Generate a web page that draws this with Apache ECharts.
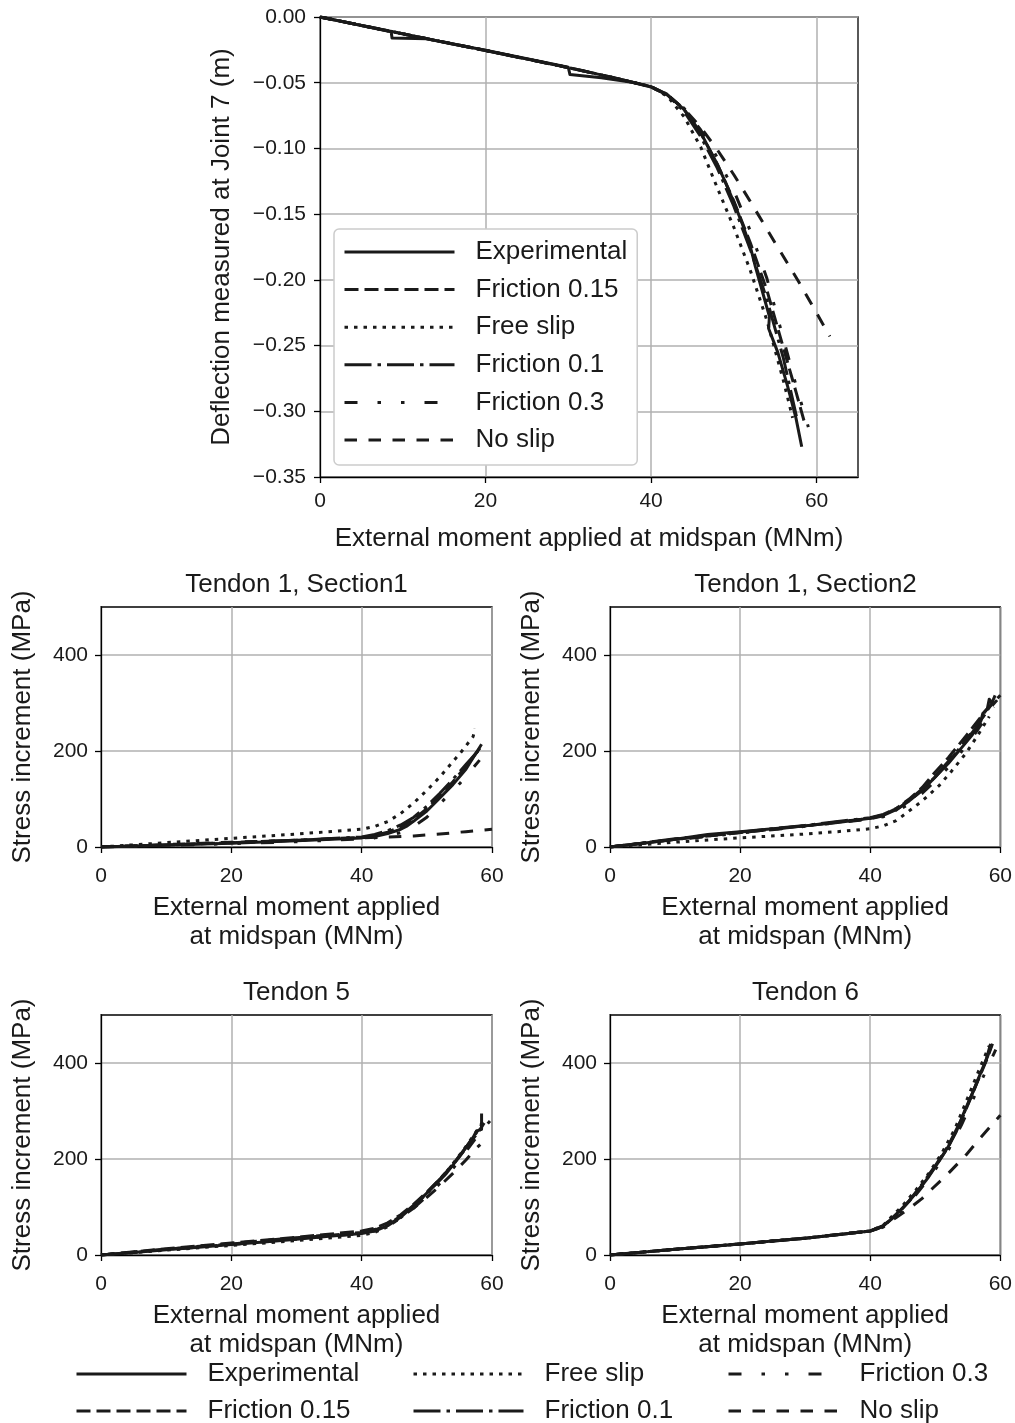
<!DOCTYPE html>
<html><head><meta charset="utf-8">
<script src="https://cdn.jsdelivr.net/npm/echarts@6/dist/echarts.min.js"></script>
<style>html,body{margin:0;padding:0;background:#fff}#chart{width:1015px;height:1423px}</style>
</head><body><div id="chart"></div>
<script>
// ---------- data ----------
const seriesNames = ['Experimental', 'Friction 0.15', 'Free slip', 'Friction 0.1', 'Friction 0.3', 'No slip'];
const momentTicksTop = [0, 20, 40, 60];
const momentTicks = [0, 20, 40, 60];
const stressTicks = [0, 200, 400];
const panelTitles = ['Tendon 1, Section1', 'Tendon 1, Section2', 'Tendon 5', 'Tendon 6'];

// Deflection at Joint 7 (m) vs moment (MNm)
const deflExperimental = [[0,0],[4,-0.0052],[8.6,-0.0112],[8.7,-0.0160],[12.9,-0.0166],[16,-0.0205],[20,-0.0253],[25,-0.0318],[30,-0.0383],[30.2,-0.0438],[34,-0.0462],[37.7,-0.0497],[40,-0.0533],[42,-0.0592],[44,-0.0705],[46,-0.0880],[48,-0.112],[49,-0.126],[50,-0.141],[51,-0.157],[52,-0.175],[52.6,-0.190],[53.5,-0.210],[54.3,-0.228],[54.2,-0.237],[55.3,-0.255],[56.5,-0.281],[57.5,-0.305],[58.2,-0.327]];
const deflFriction015 = [[0,0],[10,-0.0128],[20,-0.0255],[30,-0.0385],[35,-0.0455],[40,-0.0530],[42,-0.0590],[44,-0.0705],[46,-0.0885],[48,-0.112],[50,-0.140],[52,-0.172],[54,-0.208],[56,-0.252],[57.5,-0.285],[58.6,-0.310]];
const deflFreeSlip = [[0,0],[10,-0.0128],[20,-0.0255],[30,-0.0385],[35,-0.0455],[40,-0.0530],[42,-0.0605],[44,-0.0760],[46,-0.0990],[48,-0.130],[50,-0.160],[52,-0.193],[54,-0.231],[56,-0.277],[57.1,-0.305]];
const deflFriction01 = [[0,0],[10,-0.0128],[20,-0.0255],[30,-0.0385],[35,-0.0455],[40,-0.0530],[42,-0.0595],[44,-0.0720],[46,-0.0910],[48,-0.115],[50,-0.144],[52,-0.177],[54,-0.215],[56,-0.260],[57.6,-0.305]];
const deflFriction03 = [[0,0],[10,-0.0128],[20,-0.0255],[30,-0.0385],[35,-0.0455],[40,-0.0530],[42,-0.0590],[44,-0.0695],[46,-0.0860],[48,-0.107],[50,-0.132],[52,-0.163],[54,-0.199],[55.6,-0.236],[57.5,-0.280],[59,-0.312]];
const deflNoSlip = [[0,0],[10,-0.0128],[20,-0.0255],[30,-0.0385],[35,-0.0455],[40,-0.0530],[42,-0.0595],[44,-0.0700],[46,-0.0840],[48,-0.101],[50,-0.120],[52,-0.1405],[55,-0.172],[57.8,-0.201],[61.6,-0.243]];

// Stress increment (MPa) vs moment (MNm)
const t1s1Experimental = [[0,0],[10,4],[20,8],[30,13],[40,19],[42,22],[44,28],[46,37],[47,44],[48,54],[50,75],[52,102],[54,130],[56,162],[58.4,214]];
const t1s1Friction015 = [[0,0],[10,4],[20,9],[30,14],[40,20],[42,24],[44,31],[46,42],[48,58],[50,80],[52,107],[54,136],[56,168],[58.5,212]];
const t1s1FreeSlip = [[0,0],[10,9],[20,18],[30,27],[40,37],[42,43],[44,53],[46,70],[48,92],[49,105],[50,118],[52,146],[54,178],[55.1,195],[57.1,230],[57.4,247]];
const t1s1Friction01 = [[0,0],[10,4],[20,9],[30,14],[40,21],[42,26],[44,34],[46,46],[48,62],[50,85],[52,112],[54,141],[56,172],[58.2,205]];
const t1s1Friction03 = [[0,0],[10,3],[20,7],[30,11],[40,17],[42,19],[44,23],[46,30],[48,43],[50,62],[52,90],[54,117],[55.1,133],[58.1,181]];
const t1s1NoSlip = [[0,0],[10,5],[20,10],[30,14],[40,19],[44,21],[48,23],[52,27],[56,32],[60,37]];

const t1s2Experimental = [[0,0],[5,8],[9,14],[9.3,18],[15,26],[20,32],[25,38],[30,44],[35,51],[40,60],[42,66],[44,78],[46,96],[48,118],[50,146],[52,174],[54,206],[55.7,234],[57,262],[57.3,278],[58,288],[58.3,308],[58.7,300],[59.2,316]];
const t1s2Friction015 = [[0,0],[10,16],[20,30],[30,44],[40,60],[42,67],[44,80],[46,100],[48,124],[49.6,150],[52,186],[55,236],[58,288],[60,316]];
const t1s2FreeSlip = [[0,0],[10,10],[20,19],[30,27],[35,32],[40,38],[42,44],[44,55],[45.5,70],[48,96],[50.6,128],[52.5,158],[54.7,195],[56.5,232],[58.3,272]];
const t1s2Friction01 = [[0,0],[10,17],[20,31],[30,45],[40,61],[42,68],[44,80],[46,98],[48,121],[50,148],[52,178],[54,210],[56,244],[58,285],[58.8,300]];
const t1s2Friction03 = [[0,0],[10,15],[20,29],[30,43],[40,58],[42,63],[44,74],[46,90],[48,112],[50,138],[52,166],[54,198],[56,234],[58.2,278],[59,292]];
const t1s2NoSlip = [[0,0],[10,16],[20,30],[30,44],[40,59],[42,65],[44,77],[46,96],[48,119],[50,146],[52,176],[54,210],[56,246],[58,283],[59.5,306]];

const t5Experimental = [[0,0],[5,5],[10,11],[15,16],[20,22],[25,27],[30,33],[35,39],[40,45],[42,50],[44,61],[46,79],[48,103],[50,129],[52,156],[53,170],[55,205],[57.1,245],[57.6,258],[58.4,262],[58.4,295]];
const t5Friction015 = [[0,0],[10,13],[20,25],[30,37],[40,50],[42,56],[44,67],[46,84],[48,106],[50,131],[52,158],[54,188],[56,222],[58,258],[58.8,275]];
const t5FreeSlip = [[0,0],[10,10],[20,20],[30,30],[40,41],[42,47],[44,59],[46,78],[48,102],[50,128],[52,157],[54,190],[56,226],[58,265],[58.7,280]];
const t5Friction01 = [[0,0],[10,12],[20,23],[30,35],[40,47],[42,52],[44,63],[46,81],[48,104],[50,130],[52,158],[54,189],[56,224],[58,262],[58.6,275]];
const t5Friction03 = [[0,0],[10,11],[20,22],[30,33],[40,45],[42,50],[44,60],[46,77],[48,98],[50,122],[52,149],[54,180],[56,216],[58,252],[59.8,281]];
const t5NoSlip = [[0,0],[10,12],[20,24],[30,36],[40,48],[42,53],[44,63],[46,78],[48,98],[50,120],[52,144],[54,170],[56,198],[57.4,220],[58.2,230]];

const t6Experimental = [[0,0],[5,6],[10,12],[15,17],[20,23],[25,29],[30,35],[35,42],[40,50],[41,54],[42,60],[43,72],[44,85],[45,98],[47,128],[49,163],[50.6,196],[52,226],[53.2,256],[54.5,300],[55.7,337],[57,380],[57.8,406],[58.5,440]];
const t6Friction015 = [[0,0],[10,12],[20,23],[30,35],[40,50],[42,60],[44,83],[46,112],[48,146],[50,184],[52,225],[54,280],[56,345],[58,410],[58.8,440]];
const t6FreeSlip = [[0,0],[10,12],[20,23],[30,35],[40,50],[42,62],[43,76],[45,103],[47,135],[49,170],[51,212],[53,262],[54.7,318],[56.2,368],[57.3,404],[58.3,436]];
const t6Friction01 = [[0,0],[10,12],[20,23],[30,35],[40,50],[42,61],[44,84],[46,113],[48,148],[50,186],[52,228],[54,282],[56,346],[58,412],[58.6,436]];
const t6Friction03 = [[0,0],[10,12],[20,23],[30,35],[40,50],[42,58],[44,80],[46,108],[48,142],[50,178],[52,218],[54,270],[56,330],[57.5,375],[59.3,428]];
const t6NoSlip = [[0,0],[10,12],[20,23],[30,35],[40,50],[42,60],[44,78],[46,97],[48,118],[49.6,139],[52,170],[54.7,208],[57,245],[60,291]];

const panelData = [
  [deflExperimental, deflFriction015, deflFreeSlip, deflFriction01, deflFriction03, deflNoSlip],
  [t1s1Experimental, t1s1Friction015, t1s1FreeSlip, t1s1Friction01, t1s1Friction03, t1s1NoSlip],
  [t1s2Experimental, t1s2Friction015, t1s2FreeSlip, t1s2Friction01, t1s2Friction03, t1s2NoSlip],
  [t5Experimental, t5Friction015, t5FreeSlip, t5Friction01, t5Friction03, t5NoSlip],
  [t6Experimental, t6Friction015, t6FreeSlip, t6Friction01, t6Friction03, t6NoSlip]
];

// bottom legend arrangement (2 rows x 3 columns)
const bottomLegendRows = [['Experimental', 'Free slip', 'Friction 0.3'], ['Friction 0.15', 'Friction 0.1', 'No slip']];

// ---------- styles ----------
const FONT = 'Liberation Sans, Arial, Helvetica, sans-serif';
const INK = '#1a1a1a';
const LW = 3;
const dashStyles = {
  'Experimental': 'solid',
  'Friction 0.15': [14, 6],
  'Free slip': [3.5, 6],
  'Friction 0.1': [27, 6, 3.5, 6],
  'Friction 0.3': [13, 20, 3.5, 20, 3.5, 20],
  'No slip': [12.5, 11.5]
};

const grids = [
  {left: 320, top: 17, width: 538, height: 460},
  {left: 101, top: 607, width: 391, height: 240},
  {left: 610, top: 607, width: 391, height: 240},
  {left: 101, top: 1015, width: 391, height: 240},
  {left: 610, top: 1015, width: 391, height: 240}
];

const axisCommon = {
  axisLine: {show: true, onZero: false, lineStyle: {color: '#000', width: 1.3}},
  axisTick: {show: true, inside: false, length: 6, lineStyle: {color: '#000', width: 1.3}},
  splitLine: {show: true, lineStyle: {color: '#b0b0b0', width: 1.5}},
  nameTextStyle: {fontFamily: FONT, fontSize: 26, color: INK}
};

const xAxes = [];
const yAxes = [];
grids.forEach((g, i) => {
  const top = i === 0;
  xAxes.push(Object.assign({}, axisCommon, {
    type: 'value', gridIndex: i, min: 0, max: top ? 65 : 60,
    axisTick: Object.assign({}, axisCommon.axisTick, {customValues: top ? momentTicksTop : momentTicks}),
    axisLabel: {customValues: top ? momentTicksTop : momentTicks, fontFamily: FONT, fontSize: 21, color: INK, margin: top ? 14 : 19},
    name: top ? 'External moment applied at midspan (MNm)' : 'External moment applied\nat midspan (MNm)',
    nameLocation: 'middle', nameGap: top ? 47 : 46,
    nameTextStyle: {fontFamily: FONT, fontSize: 26, color: INK, lineHeight: 29}
  }));
  yAxes.push(Object.assign({}, axisCommon, top ? {
    type: 'value', gridIndex: i, min: -0.35, max: 0, interval: 0.05,
    axisLabel: {fontFamily: FONT, fontSize: 21, color: INK, margin: 14,
      formatter: v => Math.abs(v) < 1e-9 ? '0.00' : v.toFixed(2).replace('-', '\u2212')},
    name: 'Deflection measured at Joint 7 (m)', nameLocation: 'middle', nameGap: 85, nameRotate: 90
  } : {
    type: 'value', gridIndex: i, min: 0, max: 500,
    axisTick: Object.assign({}, axisCommon.axisTick, {customValues: stressTicks}),
    axisLabel: {customValues: stressTicks, fontFamily: FONT, fontSize: 21, color: INK, margin: 13},
    name: 'Stress increment (MPa)', nameLocation: 'middle', nameGap: 65, nameRotate: 90
  }));
});

const series = [];
panelData.forEach((arrs, i) => {
  arrs.forEach((d, j) => {
    const nm = seriesNames[j];
    series.push({
      type: 'line', name: nm, xAxisIndex: i, yAxisIndex: i, data: d,
      symbol: 'none', showSymbol: false, animation: false, silent: true,
      lineStyle: {color: INK, width: LW, type: dashStyles[nm], cap: 'butt', join: 'round'},
      itemStyle: {color: INK}
    });
  });
});

const titleCenters = [[296.5, 572], [805.5, 572], [296.5, 980], [805.5, 980]];
const titles = panelTitles.map((t, k) => ({
  text: t, left: titleCenters[k][0], top: titleCenters[k][1], textAlign: 'center', padding: 0,
  textStyle: {fontFamily: FONT, fontSize: 26, fontWeight: 'normal', color: INK}
}));

const legendBase = {
  orient: 'vertical', itemWidth: 110, itemHeight: 20, itemGap: 11.6, selectedMode: false,
  lineStyle: {width: LW, type: 'inherit', color: INK},
  itemStyle: {opacity: 0},
  textStyle: {fontFamily: FONT, fontSize: 26, color: INK, padding: [0, 0, 0, 16]}
};
const legends = [
  Object.assign({}, legendBase, {
    data: seriesNames, left: 334, top: 229, padding: [10, 10, 12, 9],
    backgroundColor: '#fff', borderColor: '#cccccc', borderWidth: 1.5, borderRadius: 5
  })
];
const bottomCols = [75, 412, 727];
const bottomRowTops = [1361, 1398];
bottomLegendRows.forEach((row, r) => {
  row.forEach((nm, c) => {
    legends.push(Object.assign({}, legendBase, {
      orient: 'horizontal', data: [nm], left: bottomCols[c], top: bottomRowTops[r], padding: 0
    }));
  });
});

const chart = echarts.init(document.getElementById('chart'), null, {renderer: 'canvas'});
chart.setOption({
  backgroundColor: '#fff',
  animation: false,
  title: titles,
  grid: grids.map(g => Object.assign({show: true, borderColor: '#000', borderWidth: 1.3, backgroundColor: 'transparent', containLabel: false}, g)),
  xAxis: xAxes,
  yAxis: yAxes,
  legend: legends,
  series: series
});
</script></body></html>
